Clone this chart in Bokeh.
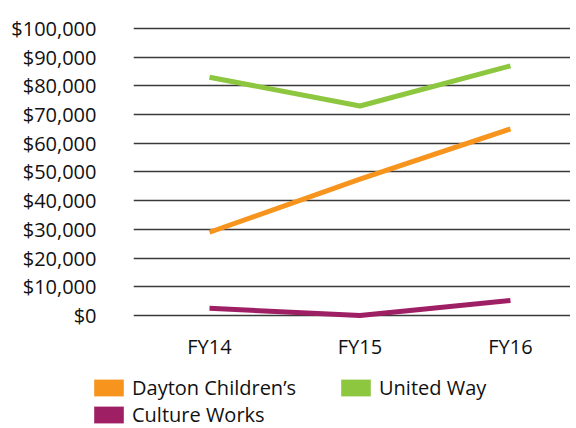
from bokeh.plotting import figure
from bokeh.models import Range1d, FixedTicker, NumeralTickFormatter, Legend, LegendItem, ColumnDataSource
from bokeh.embed import file_html
from bokeh.resources import INLINE

years = ["FY14", "FY15", "FY16"]
dayton = [29000, 47500, 65000]
united_way = [83000, 73000, 87000]
culture_works = [2500, 0, 5200]
y_ticks = [0, 10000, 20000, 30000, 40000, 50000, 60000, 70000, 80000, 90000, 100000]
series_names = ["Dayton Children\u2019s", "United Way", "Culture Works"]
series_colors = ["#F7941D", "#8DC63F", "#9E1F63"]

xs = list(range(len(years)))
FONT = "Open Sans"

p = figure(width=570, height=362, output_backend="svg", toolbar_location=None,
           x_range=Range1d(-0.505, 2.399), y_range=Range1d(-1050, 100700),
           min_border_left=133, min_border_right=0, min_border_top=26, min_border_bottom=30)
p.outline_line_color = None

p.xgrid.grid_line_color = None
p.ygrid.ticker = FixedTicker(ticks=y_ticks)
p.ygrid.grid_line_color = "#3a3a3a"
p.ygrid.grid_line_width = 1.6

p.yaxis.ticker = FixedTicker(ticks=y_ticks)
p.yaxis.formatter = NumeralTickFormatter(format="$0,0")
p.xaxis.ticker = FixedTicker(ticks=xs)
p.xaxis.major_label_overrides = {i: y for i, y in enumerate(years)}
for ax in (p.xaxis, p.yaxis):
    ax.axis_line_color = None
    ax.major_tick_line_color = None
    ax.minor_tick_line_color = None
    ax.major_label_text_font = FONT
    ax.major_label_text_font_size = "20px"
    ax.major_label_text_color = "#111111"
p.yaxis.major_label_standoff = 31
p.xaxis.major_label_standoff = 8

src = ColumnDataSource(dict(x=xs, d=dayton, u=united_way, c=culture_works))
for col, color in zip(["d", "u", "c"], series_colors):
    p.line("x", col, source=src, line_color=color, line_width=5)

# legend panel (zero-size swatch renderers, used only for legend glyphs)
lg = figure(width=570, height=66, output_backend="svg", toolbar_location=None,
            x_range=Range1d(0, 1), y_range=Range1d(0, 1),
            x_axis_location=None, y_axis_location=None,
            min_border_left=0, min_border_right=0, min_border_top=0, min_border_bottom=0)
lg.outline_line_color = None
lg.grid.visible = False
items = []
for name, color in zip(series_names, series_colors):
    r = lg.rect(x=[0], y=[0], width=[0], height=[0], fill_color=color, line_color=None)
    items.append(LegendItem(label=name, renderers=[r]))

legend = Legend(items=items, location=(90, 0), orientation="horizontal", ncols=2,
    glyph_width=37, glyph_height=21, label_width=205, label_height=23,
    label_standoff=5, spacing=0, padding=0, margin=0,
    border_line_color=None, background_fill_alpha=0,
    label_text_font=FONT, label_text_font_size="20px", label_text_color="#111111")
lg.add_layout(legend, "center")

open("out.html", "w").write(file_html([p, lg], INLINE))
